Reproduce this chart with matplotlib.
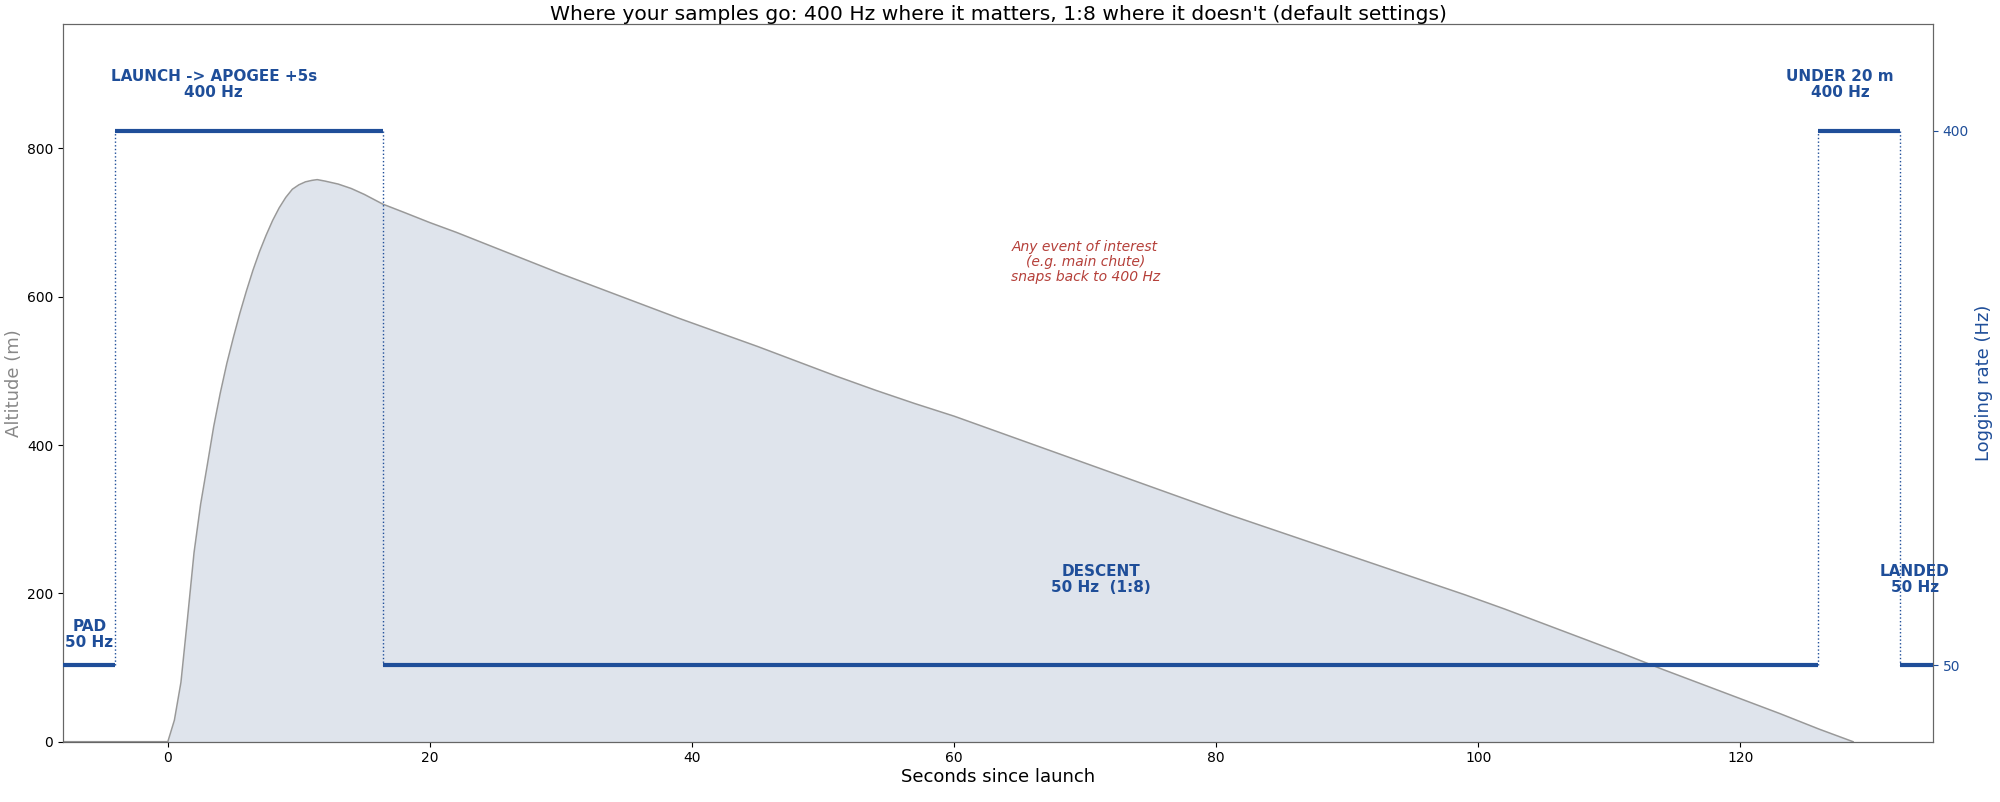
import matplotlib
matplotlib.use("Agg")
import matplotlib.pyplot as plt
import numpy as np

# ---------------- data ----------------
time_s = [-8.0, 0.0, 0.5, 1.0, 1.5, 2.0, 2.5, 3.0, 3.5, 4.0, 4.5, 5.0, 5.5, 6.0, 6.5,
          7.0, 7.5, 8.0, 8.5, 9.0, 9.5, 10.0, 10.5, 11.0, 11.4, 12.0, 13.0, 14.0,
          15.0, 16.4, 18.0, 20.0, 22.0, 25.0, 28.0, 30.0, 33.0, 36.0, 39.0, 42.0,
          45.0, 48.0, 51.0, 54.0, 57.0, 60.0, 63.0, 66.0, 69.0, 72.0, 75.0, 78.0,
          81.0, 84.0, 87.0, 90.0, 93.0, 96.0, 99.0, 102.0, 105.0, 108.0, 111.0,
          114.0, 117.0, 120.0, 123.0, 126.0, 128.6]
altitude_m = [0, 0, 29, 80, 166, 255, 320, 372, 425, 470, 510, 545, 578, 608, 636,
              661, 683, 703, 720, 734, 745, 751, 755, 757, 758, 756, 752, 746,
              738, 725, 714, 700, 687, 666, 645, 631, 611, 591, 571, 552,
              533, 513, 493, 474, 456, 439, 420, 401, 382, 363, 344, 325,
              306, 288, 270, 252, 234, 216, 198, 179, 159, 139, 119,
              98, 78, 58, 38, 17, 0]

phase_names = ["PAD\n50 Hz", "LAUNCH -> APOGEE +5s\n400 Hz", "DESCENT\n50 Hz  (1:8)",
               "UNDER 20 m\n400 Hz", "LANDED\n50 Hz"]
phase_start = [-8.0, -4.0, 16.4, 125.9, 132.2]
phase_end = [-4.0, 16.4, 125.9, 132.2, 134.7]
phase_rate = [50, 400, 50, 400, 50]
label_x = [-6.0, 3.5, 71.2, 127.6, 133.3]
label_y = [60, 420, 96, 420, 96]

note_text = "Any event of interest\n(e.g. main chute)\nsnaps back to 400 Hz"

BLUE = "#1f4e99"
RED = "#b5403a"

fig = plt.figure(figsize=(20, 8.02), dpi=100)
ax = fig.add_axes([0.0315, 0.0752, 0.935, 0.895])
ax2 = ax.twinx()

# altitude
ax.fill_between(time_s, altitude_m, 0, color="#dfe4ec", lw=0, zorder=1)
ax.plot(time_s, altitude_m, color="#999999", lw=1.1, zorder=2)
ax.set_xlim(-8, 134.7)
ax.set_ylim(0, 968)
ax.set_xticks([0, 20, 40, 60, 80, 100, 120])
ax.set_yticks([0, 200, 400, 600, 800])
ax.set_xlabel("Seconds since launch", fontsize=13, labelpad=2)
ax.set_ylabel("Altitude (m)", fontsize=13, color="#888888", labelpad=3)
ax.tick_params(labelsize=10)

# logging rate
for s, e, r in zip(phase_start, phase_end, phase_rate):
    ax2.plot([s, e], [r, r], color=BLUE, lw=3.0, solid_capstyle="butt", zorder=3)
for i in range(1, len(phase_start)):
    ax2.plot([phase_start[i], phase_start[i]],
             [phase_rate[i - 1], phase_rate[i]],
             color=BLUE, lw=1.0, ls=":", zorder=3)
for name, x, y in zip(phase_names, label_x, label_y):
    ax2.text(x, y, name, color=BLUE, fontsize=11, fontweight="bold",
             ha="center", va="bottom", linespacing=1.12)
ax2.text(70, 314, note_text, color=RED, fontsize=10, style="italic",
         ha="center", va="center", linespacing=1.12)

ax2.set_ylim(0, 470)
ax2.set_yticks([50, 400])
ax2.tick_params(labelsize=10, colors=BLUE)
ax2.set_ylabel("Logging rate (Hz)", fontsize=13, color=BLUE)

for a in (ax, ax2):
    for sp in a.spines.values():
        sp.set_color("#666666")
ax.spines["bottom"].set_color("#444444")

ax.set_title("Where your samples go: 400 Hz where it matters, 1:8 where it doesn't (default settings)",
             fontsize=14.6, pad=1)

fig.savefig("out.png", dpi=100)
